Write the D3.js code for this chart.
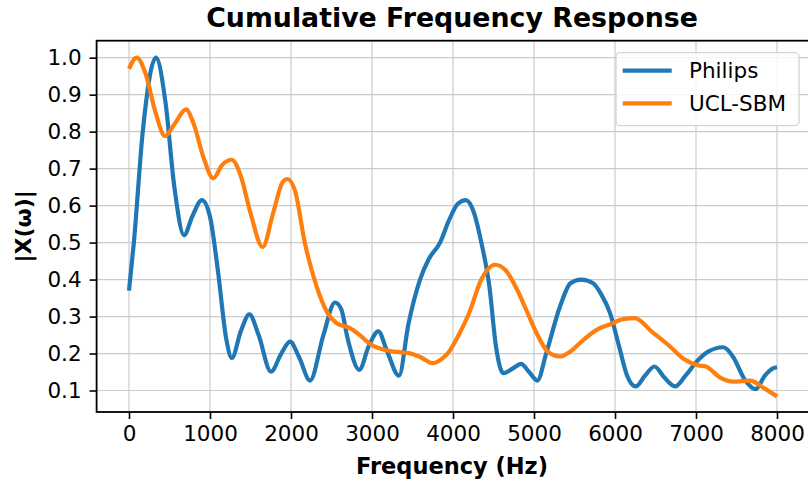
<!DOCTYPE html>
<html>
<head>
<meta charset="utf-8">
<style>
  body { margin: 0; background: #fff; }
  svg { display: block; font-family: "DejaVu Sans", sans-serif; }
  .grid line { stroke: #cbcbcb; stroke-width: 1.2px; }
  .axis path, .axis line { stroke: #000; }
</style>
</head>
<body>
<script src="https://d3js.org/d3.v7.min.js"></script>
<script>
var width = 808, height = 485;

// Philips curve (Hz, |X|)
var philipsFreq = [0, 60, 170, 333, 450, 560, 680, 780, 900, 1000, 1100, 1200, 1270, 1380, 1486, 1600, 1753, 1880, 1988, 2100, 2235, 2400, 2543, 2620, 2700, 2843, 2960, 3078, 3180, 3333, 3450, 3593, 3700, 3840, 3950, 4060, 4160, 4260, 4350, 4450, 4530, 4621, 4740, 4840, 4940, 5041, 5150, 5321, 5450, 5580, 5730, 5830, 5938, 6050, 6150, 6255, 6370, 6486, 6610, 6741, 6870, 7008, 7150, 7337, 7460, 7600, 7737, 7850, 7950, 8000];
var philipsVal  = [0.37, 0.50, 0.80, 1.0, 0.88, 0.65, 0.52, 0.57, 0.615, 0.57, 0.42, 0.24, 0.188, 0.26, 0.306, 0.25, 0.151, 0.20, 0.232, 0.19, 0.127, 0.25, 0.338, 0.32, 0.24, 0.156, 0.22, 0.26, 0.21, 0.14, 0.28, 0.40, 0.455, 0.50, 0.56, 0.605, 0.615, 0.58, 0.50, 0.38, 0.22, 0.147, 0.16, 0.172, 0.15, 0.127, 0.20, 0.327, 0.39, 0.40, 0.39, 0.36, 0.31, 0.22, 0.14, 0.111, 0.14, 0.165, 0.135, 0.111, 0.14, 0.178, 0.205, 0.217, 0.19, 0.13, 0.104, 0.14, 0.16, 0.163];

// UCL-SBM curve
var uclFreq = [0, 95, 200, 330, 444, 560, 704, 800, 920, 1041, 1150, 1268, 1380, 1500, 1650, 1780, 1900, 1955, 2050, 2170, 2317, 2450, 2564, 2716, 2850, 2963, 3120, 3272, 3457, 3600, 3745, 3860, 3951, 4070, 4198, 4350, 4519, 4650, 4786, 4900, 5033, 5170, 5321, 5444, 5600, 5774, 5950, 6100, 6247, 6450, 6679, 6850, 7029, 7120, 7300, 7461, 7667, 7850, 8000];
var uclVal  = [0.97, 1.0, 0.96, 0.85, 0.788, 0.82, 0.86, 0.82, 0.73, 0.674, 0.71, 0.724, 0.68, 0.58, 0.488, 0.58, 0.665, 0.672, 0.64, 0.50, 0.381, 0.31, 0.282, 0.27, 0.25, 0.228, 0.212, 0.205, 0.201, 0.19, 0.174, 0.185, 0.205, 0.25, 0.309, 0.40, 0.44, 0.425, 0.375, 0.32, 0.255, 0.205, 0.192, 0.205, 0.235, 0.264, 0.28, 0.293, 0.296, 0.26, 0.219, 0.185, 0.168, 0.165, 0.135, 0.124, 0.127, 0.105, 0.084];

var xTicks = [0, 1000, 2000, 3000, 4000, 5000, 6000, 7000, 8000];
var yTicks = [0.1, 0.2, 0.3, 0.4, 0.5, 0.6, 0.7, 0.8, 0.9, 1.0];
var seriesNames = ["Philips", "UCL-SBM"];
var colors = ["#1f77b4", "#ff7f0e"];

var plot = {left: 96.6, right: 809.4, top: 40.7, bottom: 412};

var x = d3.scaleLinear().domain([-400, 8400]).range([plot.left, plot.right]);
var y = d3.scaleLinear().domain([0.0419, 1.0459]).range([plot.bottom, plot.top]);

var svg = d3.select("body").append("svg")
    .attr("width", width)
    .attr("height", height);

// grid
var grid = svg.append("g").attr("class", "grid");
grid.selectAll(".gx").data(xTicks).enter().append("line")
    .attr("x1", d => x(d)).attr("x2", d => x(d))
    .attr("y1", plot.top).attr("y2", plot.bottom);
grid.selectAll(".gy").data(yTicks).enter().append("line")
    .attr("y1", d => y(d)).attr("y2", d => y(d))
    .attr("x1", plot.left).attr("x2", plot.right);

var series = [
  philipsFreq.map((f, i) => [f, philipsVal[i]]),
  uclFreq.map((f, i) => [f, uclVal[i]])
];

var line = d3.line()
    .x(d => x(d[0]))
    .y(d => y(d[1]))
    .curve(d3.curveMonotoneX);

svg.append("defs").append("clipPath").attr("id", "clip")
  .append("rect").attr("x", plot.left).attr("y", plot.top)
  .attr("width", plot.right - plot.left).attr("height", plot.bottom - plot.top);

svg.append("g").attr("clip-path", "url(#clip)")
  .selectAll("path").data(series).enter().append("path")
    .attr("d", line)
    .attr("fill", "none")
    .attr("stroke", (d, i) => colors[i])
    .attr("stroke-width", 4.2)
    .attr("stroke-linejoin", "round")
    .attr("stroke-linecap", "butt");

// axes
var xAxis = svg.append("g").attr("class", "axis")
    .attr("transform", "translate(0," + plot.bottom + ")")
    .call(d3.axisBottom(x).tickValues(xTicks).tickFormat(d3.format("d")).tickSize(7).tickPadding(7).tickSizeOuter(0));
var yAxis = svg.append("g").attr("class", "axis")
    .attr("transform", "translate(" + plot.left + ",0)")
    .call(d3.axisLeft(y).tickValues(yTicks).tickFormat(d3.format(".1f")).tickSize(7).tickPadding(8).tickSizeOuter(0));

[xAxis, yAxis].forEach(function(a) {
  a.selectAll("path").remove();
  a.selectAll("line").attr("stroke-width", 1.6);
  a.selectAll("text").attr("font-size", "21.5px").attr("font-family", "DejaVu Sans").attr("fill", "#000");
});

// spines
svg.append("rect")
    .attr("x", plot.left).attr("y", plot.top)
    .attr("width", plot.right - plot.left).attr("height", plot.bottom - plot.top)
    .attr("fill", "none").attr("stroke", "#000").attr("stroke-width", 1.8);

// title and labels
svg.append("text")
    .attr("x", 452).attr("y", 27)
    .attr("text-anchor", "middle")
    .attr("font-size", "26.8px").attr("font-weight", "bold")
    .text("Cumulative Frequency Response");

svg.append("text")
    .attr("x", 452).attr("y", 474)
    .attr("text-anchor", "middle")
    .attr("font-size", "22.5px").attr("font-weight", "bold")
    .text("Frequency (Hz)");

svg.append("text")
    .attr("transform", "translate(31," + ((plot.top + plot.bottom) / 2) + ") rotate(-90)")
    .attr("text-anchor", "middle")
    .attr("font-size", "22px").attr("font-weight", "bold")
    .text("|X(\u03c9)|");

// legend
var legend = svg.append("g");
legend.append("rect")
    .attr("x", 616).attr("y", 52.7).attr("width", 183).attr("height", 73)
    .attr("rx", 4).attr("fill", "#fff").attr("fill-opacity", 0.8)
    .attr("stroke", "#d5d5d5").attr("stroke-width", 1.3);
var items = legend.selectAll(".item").data(seriesNames).enter().append("g")
    .attr("transform", (d, i) => "translate(0," + (70.7 + i * 32.6) + ")");
items.append("line")
    .attr("x1", 622.7).attr("x2", 671.7)
    .attr("stroke", (d, i) => colors[i]).attr("stroke-width", 4.2);
items.append("text")
    .attr("x", 689).attr("dy", "0.36em")
    .attr("font-size", "21.5px")
    .text(d => d);
</script>
</body>
</html>
